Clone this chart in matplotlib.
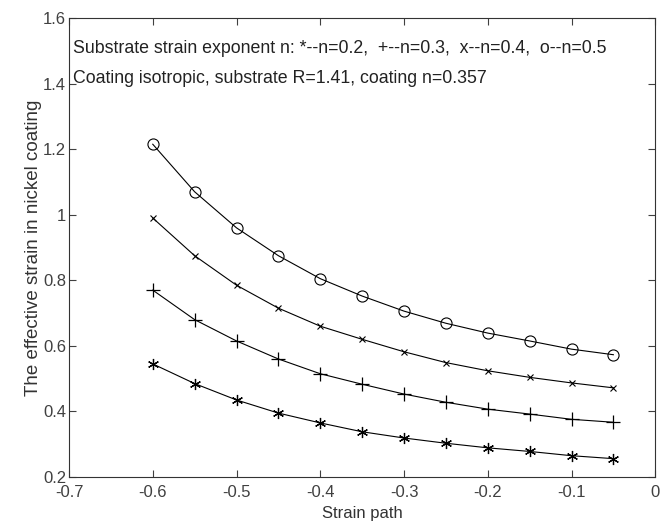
import matplotlib
matplotlib.use('Agg')
import matplotlib.pyplot as plt

plt.rcParams['font.family'] = ['Liberation Sans', 'DejaVu Sans']

strain_path = [-0.6, -0.55, -0.5, -0.45, -0.4, -0.35, -0.3, -0.25, -0.2, -0.15, -0.1, -0.05]

n02 = [0.545, 0.485, 0.435, 0.395, 0.365, 0.338, 0.319, 0.303, 0.289, 0.278, 0.265, 0.256]
n03 = [0.770, 0.680, 0.615, 0.560, 0.515, 0.483, 0.453, 0.428, 0.407, 0.392, 0.376, 0.367]
n04 = [0.990, 0.875, 0.785, 0.715, 0.660, 0.620, 0.582, 0.549, 0.524, 0.504, 0.487, 0.472]
n05 = [1.215, 1.070, 0.960, 0.875, 0.805, 0.752, 0.706, 0.669, 0.639, 0.615, 0.590, 0.573]

fig = plt.figure(figsize=(6.7, 5.25), dpi=100)
ax = fig.add_axes([0.103, 0.0914, 0.875, 0.8743])

# MATLAB-style asterisk marker
ax.plot(strain_path, n02, '-', color='black', lw=0.8, marker=(6, 2, 0), ms=8, mew=0.9)
ax.plot(strain_path, n03, '-', color='black', lw=0.8, marker='+', ms=10, mew=0.9)
ax.plot(strain_path, n04, '-', color='black', lw=0.8, marker='x', ms=5, mew=0.8)
ax.plot(strain_path, n05, '-', color='black', lw=0.8, marker='o', ms=8, mfc='none', mew=0.8)

ax.set_xlim(-0.7, 0)
ax.set_ylim(0.2, 1.6)
ax.set_xticks([-0.7, -0.6, -0.5, -0.4, -0.3, -0.2, -0.1, 0])
ax.set_xticklabels(['-0.7', '-0.6', '-0.5', '-0.4', '-0.3', '-0.2', '-0.1', '0'])
ax.set_yticks([0.2, 0.4, 0.6, 0.8, 1.0, 1.2, 1.4, 1.6])
ax.set_yticklabels(['0.2', '0.4', '0.6', '0.8', '1', '1.2', '1.4', '1.6'])
ax.tick_params(direction='in', top=True, right=True, length=5, width=0.8,
               labelsize=12, colors='#404040')
ax.tick_params(axis='y', pad=2)
ax.tick_params(axis='x', pad=6)
for s in ax.spines.values():
    s.set_linewidth(0.8)
    s.set_color('#333333')

ax.text(-0.695, 1.508, 'Substrate strain exponent n: *--n=0.2,  +--n=0.3,  x--n=0.4,  o--n=0.5',
        fontsize=12.8, va='center', color='#222222')
ax.text(-0.695, 1.417, 'Coating isotropic, substrate R=1.41, coating n=0.357',
        fontsize=12.8, va='center', color='#222222')

ax.set_xlabel('Strain path', fontsize=12, labelpad=4, color='#333333')
ax.set_ylabel('The effective strain in nickel coating', fontsize=13.5, labelpad=1, color='#333333')

fig.savefig('out.png', dpi=100)
